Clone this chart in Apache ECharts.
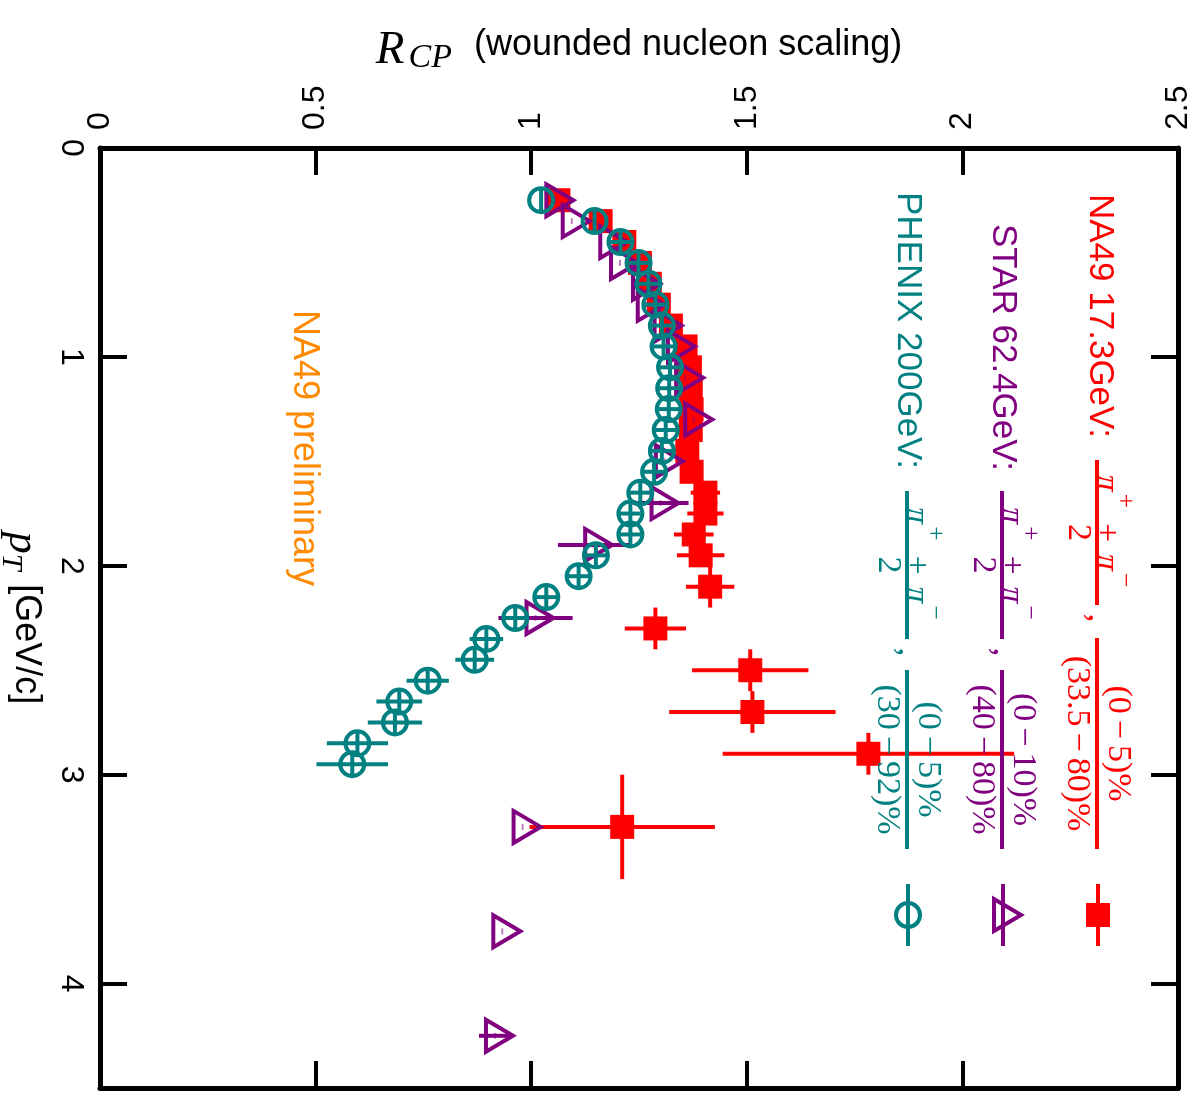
<!DOCTYPE html>
<html>
<head>
<meta charset="utf-8">
<title>R_CP vs pT</title>
<script src="https://cdn.jsdelivr.net/npm/echarts@6/dist/echarts.min.js"></script>
<style>
  html, body { margin: 0; padding: 0; background: #ffffff; }
  #chart { width: 1200px; height: 1102px; }
</style>
</head>
<body>
<div id="chart"></div>
<script>
// ---- NA49 17.3 GeV, (pi+ + pi-)/2, (0-5)% / (33.5-80)% ----
const na49Pt    = [0.25, 0.35, 0.45, 0.55, 0.65, 0.75, 0.85, 0.95, 1.05, 1.15, 1.25, 1.35, 1.45, 1.55, 1.65, 1.75, 1.85, 1.95, 2.1, 2.3, 2.5, 2.7, 2.9, 3.25];
const na49Rcp   = [1.063, 1.161, 1.216, 1.252, 1.275, 1.296, 1.324, 1.358, 1.368, 1.370, 1.372, 1.370, 1.362, 1.372, 1.404, 1.404, 1.377, 1.393, 1.415, 1.288, 1.508, 1.513, 1.782, 1.211];
const na49ErrR  = [0.010, 0.010, 0.010, 0.010, 0.012, 0.012, 0.012, 0.014, 0.014, 0.015, 0.016, 0.017, 0.018, 0.020, 0.034, 0.042, 0.046, 0.055, 0.056, 0.071, 0.135, 0.193, 0.338, 0.215];
const na49ErrPt = [0.05, 0.05, 0.05, 0.05, 0.05, 0.05, 0.05, 0.05, 0.05, 0.05, 0.05, 0.05, 0.05, 0.05, 0.05, 0.05, 0.05, 0.05, 0.1, 0.1, 0.1, 0.1, 0.1, 0.25];

// ---- STAR 62.4 GeV, (pi+ + pi-)/2, (0-10)% / (40-80)% ----
const starPt    = [0.25, 0.35, 0.45, 0.55, 0.65, 0.75, 0.85, 0.95, 1.1, 1.3, 1.5, 1.7, 1.9, 2.25, 3.25, 3.75, 4.25];
const starRcp   = [1.056, 1.094, 1.181, 1.206, 1.257, 1.268, 1.307, 1.338, 1.357, 1.378, 1.310, 1.300, 1.146, 1.010, 0.980, 0.933, 0.916];
const starErrR  = [0, 0, 0, 0, 0, 0, 0, 0, 0, 0, 0, 0.065, 0.084, 0.086, 0, 0, 0.037];
const starErrPt = [0, 0, 0, 0, 0, 0, 0, 0, 0, 0, 0, 0, 0, 0, 0, 0, 0];

// ---- PHENIX 200 GeV, (pi+ + pi-)/2, (0-5)% / (30-92)% ----
const phenixPt    = [0.25, 0.35, 0.45, 0.55, 0.65, 0.75, 0.85, 0.95, 1.05, 1.15, 1.25, 1.35, 1.45, 1.55, 1.65, 1.75, 1.85, 1.95, 2.05, 2.15, 2.25, 2.35, 2.45, 2.55, 2.65, 2.75, 2.85, 2.95];
const phenixRcp   = [1.023, 1.147, 1.207, 1.249, 1.272, 1.288, 1.303, 1.307, 1.322, 1.320, 1.319, 1.312, 1.303, 1.285, 1.253, 1.230, 1.230, 1.150, 1.110, 1.035, 0.963, 0.896, 0.869, 0.760, 0.694, 0.684, 0.597, 0.585];
const phenixErrR  = [0, 0, 0.024, 0.024, 0.024, 0.024, 0.024, 0.024, 0.024, 0.024, 0.024, 0.024, 0.024, 0.024, 0.024, 0.024, 0.024, 0.025, 0.025, 0.026, 0.028, 0.039, 0.045, 0.049, 0.053, 0.063, 0.071, 0.083];
const phenixErrPt = [0.05, 0.05, 0.05, 0.05, 0.05, 0.05, 0.05, 0.05, 0.05, 0.05, 0.05, 0.05, 0.05, 0.05, 0.05, 0.05, 0.05, 0.05, 0.05, 0.05, 0.05, 0.05, 0.05, 0.05, 0.05, 0.05, 0.05, 0.05];

// ---- axes ----
const rcpTicks = [0, 0.5, 1, 1.5, 2, 2.5];
const ptTicks  = [0, 1, 2, 3, 4];
const ptMax    = 4.5;

// ---- legend text ----
const legendNames = ['NA49 17.3GeV:', 'STAR 62.4GeV:', 'PHENIX 200GeV:'];
const centralNum  = ['(0', '(0', '(0'];
const centralNum2 = ['5)%', '10)%', '5)%'];
const periphNum   = ['(33.5', '(40', '(30'];
const periphNum2  = ['80)%', '80)%', '92)%'];
const prelimText  = 'NA49 preliminary';

const RED = '#ff0000', PURPLE = '#800080', TEAL = '#008080', ORANGE = '#ff8a00';
const SANS  = '"Liberation Sans", Arial, Helvetica, sans-serif';
const SERIF = '"Liberation Serif", "Times New Roman", serif';

function toData(pt, r, eR, ePt) {
  return pt.map((p, i) => [r[i], p, eR[i], ePt[i]]);
}

// error bars in both directions, in data units
function errorBars(api, color) {
  const R = api.value(0), pt = api.value(1), eR = api.value(2), ePt = api.value(3);
  const out = [];
  const st = { stroke: color, lineWidth: 4, lineCap: 'butt' };
  if (eR > 0) {
    const a = api.coord([R - eR, pt]), b = api.coord([R + eR, pt]);
    out.push({ type: 'line', shape: { x1: a[0], y1: a[1], x2: b[0], y2: b[1] }, style: st });
  }
  if (ePt > 0) {
    const a = api.coord([R, pt - ePt]), b = api.coord([R, pt + ePt]);
    out.push({ type: 'line', shape: { x1: a[0], y1: a[1], x2: b[0], y2: b[1] }, style: st });
  }
  return out;
}

function squareShape(cx, cy, color) {
  return { type: 'rect', shape: { x: cx - 12, y: cy - 12, width: 24, height: 24 }, style: { fill: color } };
}
function triangleShape(cx, cy, color) {
  return {
    type: 'polygon',
    shape: { points: [[cx + 18, cy], [cx - 9, cy - 16], [cx - 9, cy + 16]] },
    style: { fill: 'none', stroke: color, lineWidth: 4, lineJoin: 'miter' }
  };
}
function circleShape(cx, cy, color) {
  return { type: 'circle', shape: { cx: cx, cy: cy, r: 12 }, style: { fill: 'none', stroke: color, lineWidth: 4 } };
}

function renderNA49(params, api) {
  const c = api.coord([api.value(0), api.value(1)]);
  const ch = errorBars(api, RED);
  ch.push(squareShape(c[0], c[1], RED));
  return { type: 'group', children: ch };
}
function renderSTAR(params, api) {
  const c = api.coord([api.value(0), api.value(1)]);
  const ch = errorBars(api, PURPLE);
  ch.push(triangleShape(c[0], c[1], PURPLE));
  ch.push({ type: 'line', shape: { x1: c[0], y1: c[1] - 3, x2: c[0], y2: c[1] + 3 },
            style: { stroke: PURPLE, lineWidth: 2, opacity: 0.5 } });
  return { type: 'group', children: ch };
}
function renderPHENIX(params, api) {
  const c = api.coord([api.value(0), api.value(1)]);
  const ch = errorBars(api, TEAL);
  ch.push(circleShape(c[0], c[1], TEAL));
  return { type: 'group', children: ch };
}

// ---- rotated legend pieces (text reads top to bottom) ----
const ROT = -Math.PI / 2;

function rotText(x, y, style, align) {
  return { type: 'text', x: x, y: y, rotation: ROT, z: 10,
           style: Object.assign({ align: align || 'left', verticalAlign: 'middle' }, style) };
}
function piFraction(color) {
  return {
    text: '{i|π}{u|+}{o|+}{i|π}{u|−}',
    rich: {
      i: { fontFamily: SERIF, fontStyle: 'italic', fontSize: 34, lineHeight: 48, verticalAlign: 'bottom', fill: color },
      u: { fontFamily: SERIF, fontSize: 25, lineHeight: 18, verticalAlign: 'top', fill: color, padding: [0, 3, 0, 2] },
      o: { fontFamily: SERIF, fontSize: 34, lineHeight: 48, verticalAlign: 'bottom', fill: color, padding: [0, 12, 0, 12] }
    }
  };
}
function centText(a, b, color) {
  return {
    text: '{n|' + a + '}{m|−}{n|' + b + '}',
    rich: {
      n: { fontFamily: SERIF, fontSize: 34, lineHeight: 40, fill: color },
      m: { fontFamily: SERIF, fontSize: 34, lineHeight: 40, fill: color, padding: [0, 6, 0, 6] }
    }
  };
}
function vline(x, y1, y2, color) {
  return { type: 'line', z: 10, shape: { x1: x, y1: y1, x2: x, y2: y2 }, style: { stroke: color, lineWidth: 4 } };
}

// legend layout, in pixels
const legendRows = [
  { color: RED,    textX: 1100, textY: 194, bar: 1097, f1: [460, 605], comma: 618, f2: [638, 849] },
  { color: PURPLE, textX: 1003, textY: 224, bar: 1002, f1: [491, 639], comma: 652, f2: [670, 849] },
  { color: TEAL,   textX: 908,  textY: 192, bar: 907,  f1: [491, 639], comma: 652, f2: [670, 849] }
];
const legendMarkerY = 915;
const legendMarkerX = [1098, 1003, 908];

function legendGraphics() {
  const g = [];
  legendRows.forEach((row, i) => {
    const c = row.color;
    g.push(rotText(row.textX, row.textY, { text: legendNames[i], fontFamily: SANS, fontSize: 35, fill: c }));
    // (pi+ + pi-)/2
    const m1 = (row.f1[0] + row.f1[1]) / 2;
    g.push(vline(row.bar, row.f1[0], row.f1[1], c));
    g.push(rotText(row.bar + 16, m1, piFraction(c), 'center'));
    g.push(rotText(row.bar - 19, m1, { text: '2', fontFamily: SERIF, fontSize: 34, fill: c }, 'center'));
    g.push(rotText(row.bar + 1, row.comma, { text: ',', fontFamily: SERIF, fontSize: 36, fill: c }, 'center'));
    // central / peripheral
    const m2 = (row.f2[0] + row.f2[1]) / 2;
    g.push(vline(row.bar, row.f2[0], row.f2[1], c));
    g.push(rotText(row.bar + 21, m2, centText(centralNum[i], centralNum2[i], c), 'center'));
    g.push(rotText(row.bar - 20, m2, centText(periphNum[i], periphNum2[i], c), 'center'));
    // marker sample
    const mx = legendMarkerX[i], my = legendMarkerY;
    g.push(vline(mx, my - 31, my + 31, c));
  });
  const my = legendMarkerY;
  g.push(Object.assign(squareShape(legendMarkerX[0], my, RED), { z: 10 }));
  g.push(Object.assign(triangleShape(legendMarkerX[1], my, PURPLE), { z: 10 }));
  g.push(Object.assign(circleShape(legendMarkerX[2], my, TEAL), { z: 10 }));
  g.push(rotText(304, 310, { text: prelimText, fontFamily: SANS, fontSize: 36, fill: ORANGE }));
  return g;
}

const frameLine = { show: true, onZero: false, lineStyle: { color: '#000', width: 5 } };
const frameTick = { show: true, inside: true, length: 27, lineStyle: { color: '#000', width: 4 } };

const chart = echarts.init(document.getElementById('chart'), null, { renderer: 'canvas' });

chart.setOption({
  animation: false,
  backgroundColor: '#ffffff',
  grid: { left: 100, right: 22, top: 148, bottom: 14, containLabel: false, outerBoundsMode: 'none' },
  xAxis: [
    {
      type: 'value', position: 'top',
      min: rcpTicks[0], max: rcpTicks[rcpTicks.length - 1], interval: rcpTicks[1] - rcpTicks[0],
      axisLine: frameLine, axisTick: frameTick, splitLine: { show: false },
      axisLabel: { rotate: -90, margin: 18, fontSize: 32, fontFamily: SANS, color: '#000',
                   formatter: v => String(v) },
      name: '{r|R}{s|CP}{t|(wounded nucleon scaling)}',
      nameLocation: 'middle', nameGap: 73,
      nameTextStyle: {
        rich: {
          r: { fontFamily: SERIF, fontStyle: 'italic', fontSize: 47, lineHeight: 48, verticalAlign: 'top', color: '#000', padding: [0, 4, 0, 0] },
          s: { fontFamily: SERIF, fontStyle: 'italic', fontSize: 34, lineHeight: 28, verticalAlign: 'bottom', color: '#000', padding: [0, 22, 0, 0] },
          t: { fontFamily: SANS, fontSize: 36, lineHeight: 48, verticalAlign: 'top', color: '#000' }
        }
      }
    },
    {
      type: 'value', position: 'bottom',
      min: rcpTicks[0], max: rcpTicks[rcpTicks.length - 1], interval: rcpTicks[1] - rcpTicks[0],
      axisLine: frameLine, axisTick: frameTick, axisLabel: { show: false }, splitLine: { show: false }
    }
  ],
  yAxis: [
    {
      type: 'value', position: 'left', inverse: true,
      min: ptTicks[0], max: ptMax, interval: ptTicks[1] - ptTicks[0],
      axisLine: frameLine, axisTick: frameTick, splitLine: { show: false },
      axisLabel: { rotate: -90, margin: 13, fontSize: 32, fontFamily: SANS, color: '#000',
                   formatter: v => (ptTicks.indexOf(v) >= 0 ? String(v) : '') },
      name: '{p|p}{s|T}{t| [GeV/c]}',
      nameLocation: 'middle', nameRotate: -90, nameGap: 56,
      nameTextStyle: {
        rich: {
          p: { fontFamily: SERIF, fontStyle: 'italic', fontSize: 44, lineHeight: 48, verticalAlign: 'top', color: '#000' },
          s: { fontFamily: SERIF, fontStyle: 'italic', fontSize: 30, lineHeight: 26, verticalAlign: 'bottom', color: '#000', padding: [0, 4, 0, 0] },
          t: { fontFamily: SANS, fontSize: 36, lineHeight: 48, verticalAlign: 'top', color: '#000' }
        }
      }
    },
    {
      type: 'value', position: 'right', inverse: true,
      min: ptTicks[0], max: ptMax, interval: ptTicks[1] - ptTicks[0],
      axisLine: frameLine, axisTick: frameTick, axisLabel: { show: false }, splitLine: { show: false }
    }
  ],
  series: [
    { type: 'custom', name: 'NA49 17.3GeV', xAxisIndex: 0, yAxisIndex: 0, clip: false,
      data: toData(na49Pt, na49Rcp, na49ErrR, na49ErrPt), encode: { x: 0, y: 1 }, renderItem: renderNA49, z: 2 },
    { type: 'custom', name: 'STAR 62.4GeV', xAxisIndex: 0, yAxisIndex: 0, clip: false,
      data: toData(starPt, starRcp, starErrR, starErrPt), encode: { x: 0, y: 1 }, renderItem: renderSTAR, z: 3 },
    { type: 'custom', name: 'PHENIX 200GeV', xAxisIndex: 0, yAxisIndex: 0, clip: false,
      data: toData(phenixPt, phenixRcp, phenixErrR, phenixErrPt), encode: { x: 0, y: 1 }, renderItem: renderPHENIX, z: 4 }
  ],
  graphic: legendGraphics()
});
</script>
</body>
</html>
